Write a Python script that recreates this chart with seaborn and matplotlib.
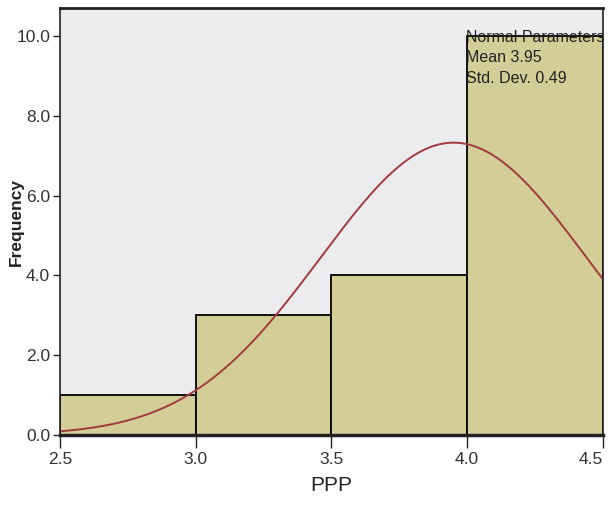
import numpy as np
import matplotlib
matplotlib.use("Agg")
import matplotlib.pyplot as plt
import seaborn as sns

# data
bin_edges = [2.5, 3.0, 3.5, 4.0, 4.5]
bin_centers = [2.75, 3.25, 3.75, 4.25]
counts = [1, 3, 4, 10]
mean_ppp = 3.95
sd_ppp = 0.49
y_ticks = [0.0, 2.0, 4.0, 6.0, 8.0, 10.0]
x_ticks = [2.5, 3.0, 3.5, 4.0, 4.5]

sns.set_style("white")
plt.rcParams['font.family'] = ['Liberation Sans', 'DejaVu Sans']

fig = plt.figure(figsize=(6.1, 5.08), dpi=100)
ax = fig.add_axes([0.098, 0.1437, 0.8905, 0.8403])
ax.set_facecolor("#ECECEE")

sns.histplot(x=bin_centers, weights=counts, bins=bin_edges, ax=ax,
             color="#D3CE98", alpha=1, edgecolor="black", linewidth=1.3)

# fitted normal curve, scaled to counts
n = sum(counts)
width = bin_edges[1] - bin_edges[0]
xs = np.linspace(2.5, 4.5, 200)
ys = n * width / (sd_ppp * np.sqrt(2 * np.pi)) * np.exp(-0.5 * ((xs - mean_ppp) / sd_ppp) ** 2)
sns.lineplot(x=xs, y=ys, ax=ax, color="#A03A3E", linewidth=1.4)

ax.set_xlim(2.5, 4.5)
ax.set_ylim(0, 10.7)
ax.set_xticks(x_ticks)
ax.set_xticklabels([f"{v:.1f}" for v in x_ticks], fontsize=12.5, color="#333333")
ax.set_yticks(y_ticks)
ax.set_yticklabels([f"{v:.1f}" for v in y_ticks], fontsize=12.5, color="#333333")
ax.tick_params(axis="x", direction="out", length=9, width=1, bottom=True, pad=3)
ax.tick_params(axis="y", direction="out", length=5, width=1, left=True, pad=2)
ax.get_xticklabels()[-1].set_horizontalalignment("right")

for s in ax.spines.values():
    s.set_visible(True)
    s.set_color("#222222")
    s.set_linewidth(1.2)
ax.spines["bottom"].set_linewidth(2.5)
ax.spines["top"].set_linewidth(2)

ax.set_xlabel("PPP", fontsize=15, color="#222222", labelpad=7)
ax.set_ylabel("Frequency", fontsize=12.5, fontweight="bold",
              color="#222222", va="center")
ax.yaxis.set_label_coords(-0.079, 0.5)

ax.text(3.995, 10.15, "Normal Parameters\nMean 3.95\nStd. Dev. 0.49",
        fontsize=11.5, va="top", ha="left", linespacing=1.45, color="#222222")

fig.savefig("out.png", dpi=100)
